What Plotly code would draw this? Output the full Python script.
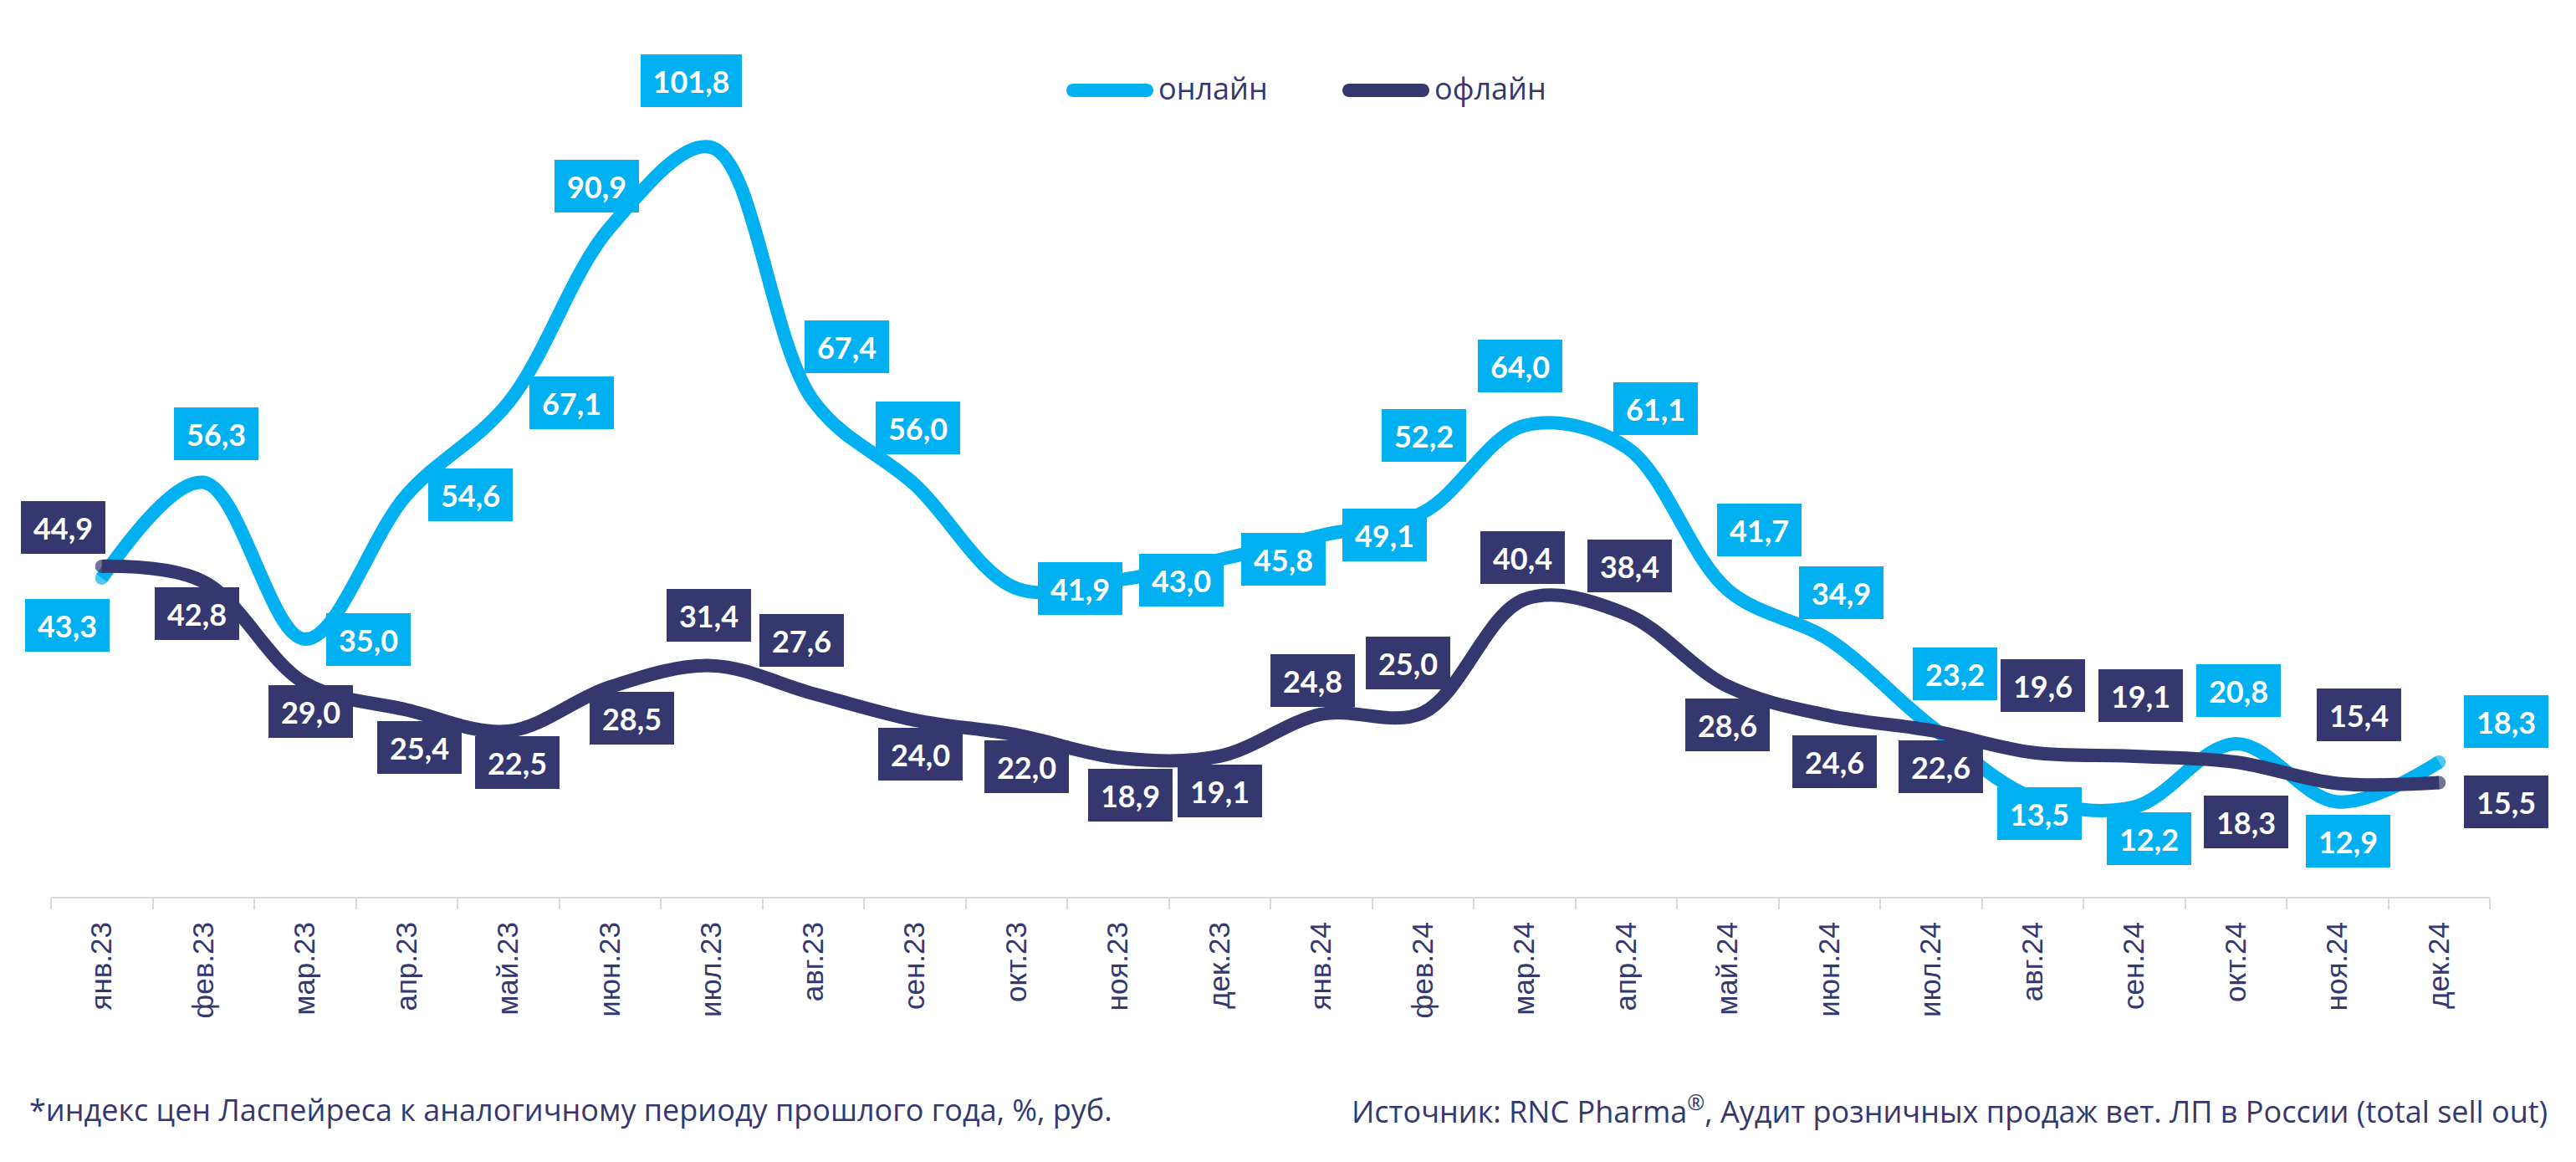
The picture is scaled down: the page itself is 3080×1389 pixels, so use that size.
import plotly.graph_objects as go

# ---------------- data ----------------
MONTHS = ["янв.23", "фев.23", "мар.23", "апр.23", "май.23", "июн.23", "июл.23", "авг.23",
          "сен.23", "окт.23", "ноя.23", "дек.23", "янв.24", "фев.24", "мар.24", "апр.24",
          "май.24", "июн.24", "июл.24", "авг.24", "сен.24", "окт.24", "ноя.24", "дек.24"]
ONLINE = [43.3, 56.3, 35.0, 54.6, 67.1, 90.9, 101.8, 67.4, 56.0, 41.9, 43.0, 45.8,
          49.1, 52.2, 64.0, 61.1, 41.7, 34.9, 23.2, 13.5, 12.2, 20.8, 12.9, 18.3]
OFFLINE = [44.9, 42.8, 29.0, 25.4, 22.5, 28.5, 31.4, 27.6, 24.0, 22.0, 18.9, 19.1,
           24.8, 25.0, 40.4, 38.4, 28.6, 24.6, 22.6, 19.6, 19.1, 18.3, 15.4, 15.5]
SERIES_NAMES = ["онлайн", "офлайн"]
NOTE_LEFT = "*индекс цен Ласпейреса к аналогичному периоду прошлого года, %, руб."
NOTE_RIGHT = "Источник: RNC Pharma<sup>®</sup>, Аудит розничных продаж вет. ЛП в России (total sell out)"

# ---------------- style / layout ----------------
CYAN = "#00B0F0"
NAVY = "#35386E"
W, H = 3080, 1389
ML, MR, MT, MB = 61, 103, 16, 317
Y_MAX = 120
LINE_W = 16

# label offsets (pixels, box centre relative to the point; +dy = down)
ON_DX = [-41, 15, 76, 76, 76, -16, -24, 40, 4, 76, 76, 76, 76, 1, -5, 35, 38, 14, 29, 8, 18, 3, 13, 80]
ON_DY = [57, -58, 0, 0, 0, -50, -80, -64, -68, 0, 0, 0, 0, -92, -71, -46, -72, -56, -62, 19, 38, -63, 47, -48]
OFF_DX = [-46, -8, 7, 15, 11, 26, -3, -14, 7, 12, 15, 0, -10, -18, -2, 4, 0, 6, 12, 12, 8, 12, 26, 80]
OFF_DY = [-46, 38, 34, 45, 37, 37, -60, -64, 41, 38, 45, 42, -40, -60, -50, -58, 46, 55, 43, -80, -72, 72, -82, 23]

PW = W - ML - MR
PH = H - MT - MB


def px_x(px):
    return (px - ML) / PW


def px_y(py):
    return (H - MB - py) / PH


def fmt(v):
    return f"{v:.1f}".replace(".", ",")


fig = go.Figure()
n = len(MONTHS)
for vals, color in [(ONLINE, CYAN), (OFFLINE, NAVY)]:
    fig.add_trace(go.Scatter(
        x=MONTHS, y=vals, mode="lines+markers",
        line=dict(color=color, width=LINE_W, shape="spline", smoothing=1.0),
        marker=dict(size=[LINE_W] + [0] * (n - 2) + [LINE_W], color=color, line=dict(width=0)),
        showlegend=False, hoverinfo="skip"))

annotations = []
for vals, color, dxs, dys in [(ONLINE, CYAN, ON_DX, ON_DY), (OFFLINE, NAVY, OFF_DX, OFF_DY)]:
    for i, v in enumerate(vals):
        txt = fmt(v)
        annotations.append(dict(
            x=MONTHS[i], y=v, xref="x", yref="y", text=f"<b>{txt}</b>", showarrow=False,
            xshift=dxs[i], yshift=-dys[i], bgcolor=color, borderpad=0, borderwidth=0,
            width=121 if len(txt) > 4 else 101, height=63, align="center", valign="middle",
            font=dict(family="Lato", size=36, color="white")))


def swatch_path(length, thick):
    r = thick / 2
    h = length / 2 - r
    k = 0.552 * r
    return (f"M {-h},{-r} L {h},{-r} C {h + k},{-r} {h + r},{-k} {h + r},0 "
            f"C {h + r},{k} {h + k},{r} {h},{r} L {-h},{r} "
            f"C {-h - k},{r} {-h - r},{k} {-h - r},0 C {-h - r},{-k} {-h - k},{-r} {-h},{-r} Z")


shapes = []
LEG_Y = 108
for name, color, cx, tx in [(SERIES_NAMES[0], CYAN, 1327, 1383), (SERIES_NAMES[1], NAVY, 1657, 1713)]:
    shapes.append(dict(type="path", xref="paper", yref="paper", xsizemode="pixel", ysizemode="pixel",
                       xanchor=px_x(cx), yanchor=px_y(LEG_Y), path=swatch_path(104, 16),
                       fillcolor=color, line=dict(width=0)))
    annotations.append(dict(x=px_x(tx), y=px_y(LEG_Y - 2), xref="paper", yref="paper", text=name,
                            showarrow=False, xanchor="left", yanchor="middle",
                            font=dict(family="Open Sans", size=36, color=NAVY)))

annotations.append(dict(x=px_x(33), y=px_y(1326), xref="paper", yref="paper", text=NOTE_LEFT,
                        showarrow=False, xanchor="left", yanchor="middle",
                        font=dict(family="Open Sans", size=36, color=NAVY)))
annotations.append(dict(x=px_x(3048), y=px_y(1326), xref="paper", yref="paper", text=NOTE_RIGHT,
                        showarrow=False, xanchor="right", yanchor="middle",
                        font=dict(family="Open Sans", size=36, color=NAVY)))

fig.update_layout(
    width=W, height=H, margin=dict(l=ML, r=MR, t=MT, b=MB, autoexpand=False),
    paper_bgcolor="white", plot_bgcolor="white", showlegend=False,
    annotations=annotations, shapes=shapes,
    xaxis=dict(type="category", range=[-0.5, n - 0.5], showgrid=False, zeroline=False,
               showline=True, linecolor="#D9D9D9", linewidth=2,
               ticks="outside", tickson="boundaries", ticklen=13, tickwidth=2, tickcolor="#D9D9D9",
               tickangle=-90, ticklabelstandoff=14,
               tickfont=dict(family="Liberation Sans", size=35, color=NAVY)),
    yaxis=dict(range=[0, Y_MAX], showgrid=False, zeroline=False, showline=False,
               showticklabels=False, ticks=""),
)

fig.write_html("out.html")
